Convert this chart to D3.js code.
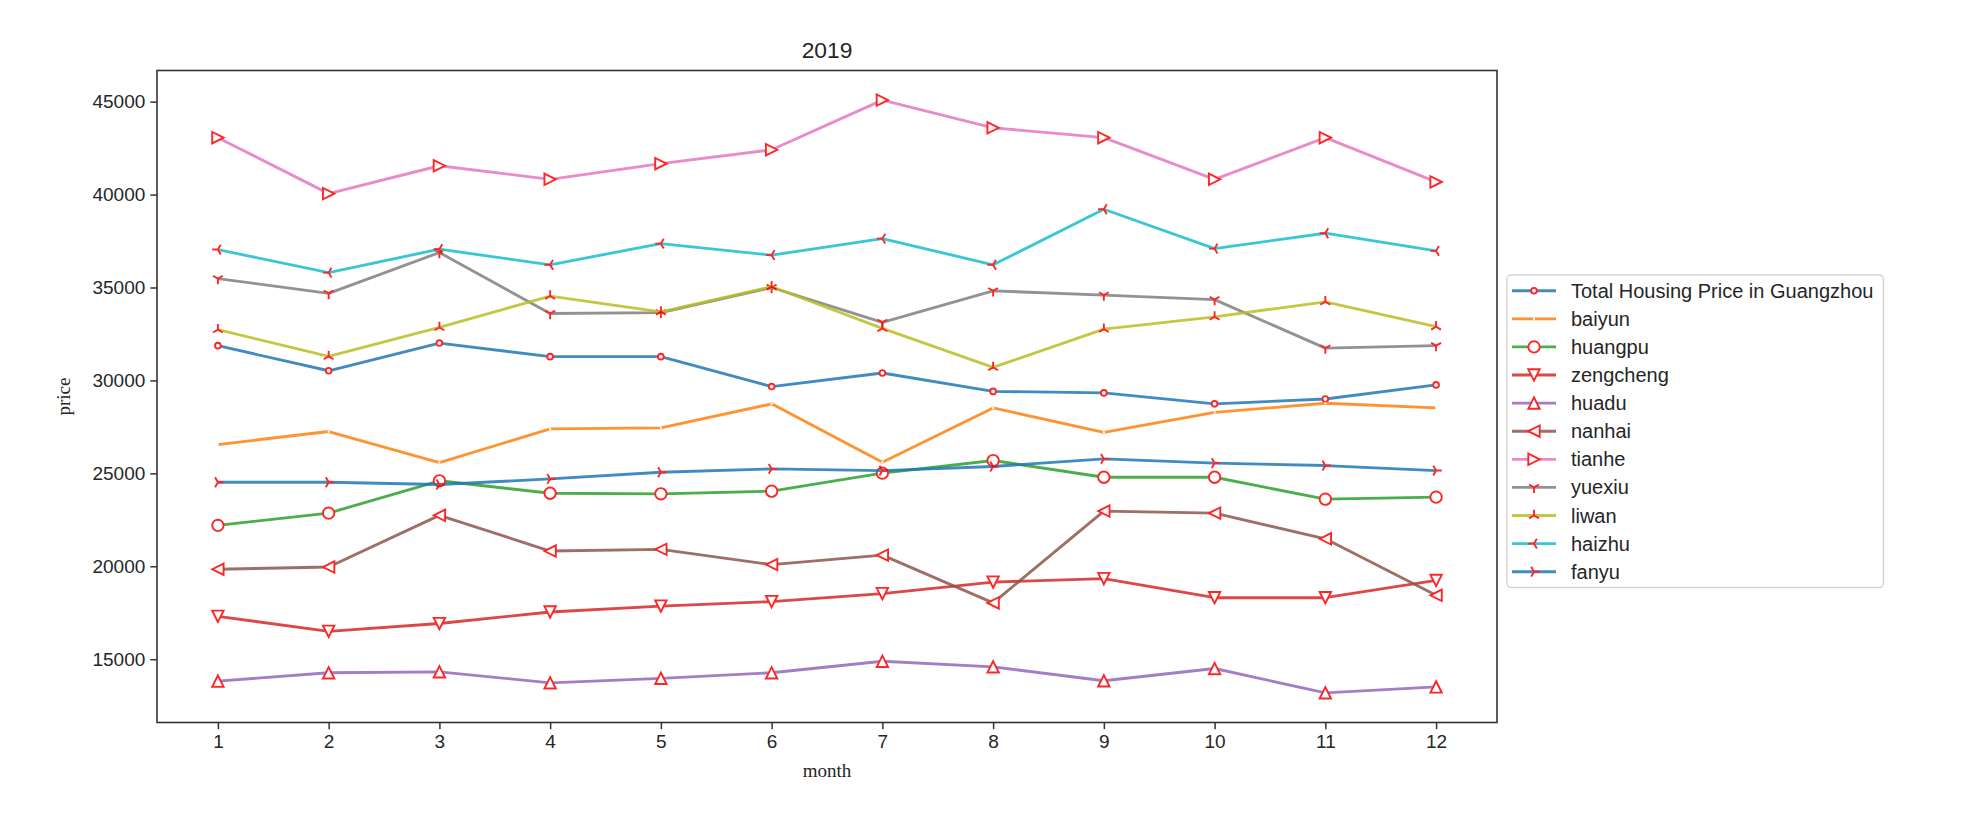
<!DOCTYPE html>
<html>
<head>
<meta charset="utf-8">
<script src="https://cdn.jsdelivr.net/npm/d3@7"></script>
<style>
	body { margin: 0; background: #fff; }
	.tick text { font-family: "Liberation Sans", Arial, sans-serif; font-size: 19px; fill: #262626; }
	.axis-label { font-family: "Liberation Serif", "Times New Roman", serif; font-size: 19px; fill: #262626; }
	.title { font-family: "Liberation Sans", Arial, sans-serif; font-size: 22.8px; fill: #262626; }
	.legend text { font-family: "Liberation Sans", Arial, sans-serif; font-size: 20px; fill: #262626; }
</style>
</head>
<body>
<svg id="chart" width="1972" height="818"></svg>
<script>
// monthly average price per district, 2019
var months = [1, 2, 3, 4, 5, 6, 7, 8, 9, 10, 11, 12];
var yTicks = [15000, 20000, 25000, 30000, 35000, 40000, 45000];

var total     = [31870, 30520, 32010, 31280, 31280, 29670, 30400, 29410, 29330, 28740, 29000, 29760];
var baiyun    = [26550, 27250, 25580, 27390, 27450, 28740, 25600, 28520, 27210, 28280, 28770, 28520];
var huangpu   = [22200, 22860, 24600, 23930, 23900, 24040, 25010, 25690, 24790, 24790, 23610, 23720];
var zengcheng = [17310, 16500, 16920, 17540, 17860, 18100, 18530, 19150, 19340, 18310, 18310, 19240];
var huadu     = [13820, 14270, 14320, 13730, 13970, 14270, 14890, 14590, 13840, 14500, 13190, 13510];
var nanhai    = [19840, 19960, 22740, 20820, 20910, 20090, 20600, 18030, 22970, 22860, 21480, 18440];
var tianhe    = [43060, 40050, 41550, 40820, 41660, 42410, 45080, 43590, 43060, 40820, 43060, 40680];
var yuexiu    = [35480, 34680, 36880, 33600, 33650, 35000, 33120, 34820, 34590, 34350, 31740, 31870];
var liwan     = [32730, 31290, 32850, 34540, 33690, 35040, 32800, 30700, 32760, 33420, 34230, 32890];
var haizhu    = [37040, 35800, 37060, 36220, 37360, 36740, 37630, 36220, 39210, 37090, 37920, 36970];
var fanyu     = [24520, 24520, 24400, 24700, 25060, 25240, 25150, 25370, 25780, 25550, 25420, 25150];

var seriesNames = ["Total Housing Price in Guangzhou", "baiyun", "huangpu", "zengcheng", "huadu",
	"nanhai", "tianhe", "yuexiu", "liwan", "haizhu", "fanyu"];
var seriesValues = [total, baiyun, huangpu, zengcheng, huadu, nanhai, tianhe, yuexiu, liwan, haizhu, fanyu];
var seriesMarkers = [".", ",", "o", "v", "^", "<", ">", "1", "2", "3", "4"];
var colors = ["#1f77b4", "#ff7f0e", "#2ca02c", "#d62728", "#9467bd", "#8c564b",
	"#e377c2", "#7f7f7f", "#bcbd22", "#17becf", "#1f77b4"];

var margin = {top: 70.5, right: 475, bottom: 95.5, left: 157};
var width = 1972, height = 818;

var svg = d3.select("#chart");

var xScale = d3.scaleLinear()
	.domain([0.45, 12.55])
	.range([margin.left, width - margin.right]);

//matplotlib style 5% padding on the y data range
var allValues = d3.merge(seriesValues);
var yMin = d3.min(allValues), yMax = d3.max(allValues);
var pad = (yMax - yMin) * 0.05;
var yScale = d3.scaleLinear()
	.domain([yMin - pad, yMax + pad])
	.range([height - margin.bottom, margin.top]);

var r = 5.7; // half marker size

function markerPath(m){
	var k = 0.866 * r, h = 0.5 * r;
	switch (m){
		case "^": return "M0," + (-r) + "L" + (-r) + "," + r + "L" + r + "," + r + "Z";
		case "v": return "M0," + r + "L" + (-r) + "," + (-r) + "L" + r + "," + (-r) + "Z";
		case "<": return "M" + (-r) + ",0L" + r + "," + (-r) + "L" + r + "," + r + "Z";
		case ">": return "M" + r + ",0L" + (-r) + "," + (-r) + "L" + (-r) + "," + r + "Z";
		case "1": return "M0,0L0," + r + "M0,0L" + k + "," + (-h) + "M0,0L" + (-k) + "," + (-h);
		case "2": return "M0,0L0," + (-r) + "M0,0L" + k + "," + h + "M0,0L" + (-k) + "," + h;
		case "3": return "M0,0L" + (-r) + ",0M0,0L" + h + "," + (-k) + "M0,0L" + h + "," + k;
		case "4": return "M0,0L" + r + ",0M0,0L" + (-h) + "," + (-k) + "M0,0L" + (-h) + "," + k;
	}
	return null;
}

function drawMarker(g, m, x, y){
	if (m === "o" || m === ".") {
		g.append("circle")
			.attr("cx", x).attr("cy", y)
			.attr("r", m === "o" ? r : r * 0.5)
			.attr("fill", "#fff").attr("stroke", "red").attr("stroke-width", 1.9);
	} else if (m === ",") {
		g.append("rect")
			.attr("x", x - 1).attr("y", y - 1)
			.attr("width", 2).attr("height", 2)
			.attr("fill", "#fff");
	} else {
		var filled = "^v<>".indexOf(m) >= 0;
		g.append("path")
			.attr("transform", "translate(" + x + "," + y + ")")
			.attr("d", markerPath(m))
			.attr("fill", filled ? "#fff" : "none")
			.attr("stroke", "red").attr("stroke-width", 1.9)
			.attr("stroke-linejoin", "miter");
	}
}

//Axes
var xAxis = d3.axisBottom(xScale).tickValues(months).tickSize(6.7).tickPadding(5);
var yAxis = d3.axisLeft(yScale).tickValues(yTicks).tickSize(6.7).tickPadding(5).tickFormat(d3.format("d"));

var gx = svg.append("g")
	.attr("transform", "translate(0," + (height - margin.bottom) + ")")
	.call(xAxis);
var gy = svg.append("g")
	.attr("transform", "translate(" + margin.left + ",0)")
	.call(yAxis);

[gx, gy].forEach(function(g){
	g.select(".domain").remove();
	g.selectAll(".tick line").attr("stroke", "#333").attr("stroke-width", 1.5);
});

//Lines and markers
var line = d3.line()
	.x(function(d, i){ return xScale(months[i]); })
	.y(function(d){ return yScale(d); });

var plot = svg.append("g");
seriesValues.forEach(function(vals, s){
	var g = plot.append("g").attr("opacity", 0.85);
	g.append("path")
		.datum(vals)
		.attr("d", line)
		.attr("fill", "none")
		.attr("stroke", colors[s])
		.attr("stroke-width", 2.85)
		.attr("stroke-linejoin", "round");
	vals.forEach(function(v, i){
		drawMarker(g, seriesMarkers[s], xScale(months[i]), yScale(v));
	});
});

//Frame
svg.append("rect")
	.attr("x", margin.left)
	.attr("y", margin.top)
	.attr("width", width - margin.right - margin.left)
	.attr("height", height - margin.bottom - margin.top)
	.attr("fill", "none")
	.attr("stroke", "#333")
	.attr("stroke-width", 1.6);

//Titles
svg.append("text")
	.attr("class", "title")
	.attr("text-anchor", "middle")
	.attr("x", (margin.left + width - margin.right) / 2)
	.attr("y", 57.5)
	.text("2019");

svg.append("text")
	.attr("class", "axis-label")
	.attr("text-anchor", "middle")
	.attr("x", (margin.left + width - margin.right) / 2)
	.attr("y", 777)
	.text("month");

svg.append("text")
	.attr("class", "axis-label")
	.attr("text-anchor", "middle")
	.attr("transform", "translate(70," + ((margin.top + height - margin.bottom) / 2) + ")rotate(-90)")
	.text("price");

//Legend
var legend = svg.append("g").attr("class", "legend");
var lx = 1507, ly = 275, rowH = 28.1;
var frame = legend.append("rect")
	.attr("x", lx).attr("y", ly)
	.attr("rx", 4).attr("ry", 4)
	.attr("fill", "#fff")
	.attr("stroke", "#d6d6d6")
	.attr("stroke-width", 1.5);

var maxText = 0;
seriesNames.forEach(function(name, s){
	var cy = ly + 15.7 + s * rowH;
	var g = legend.append("g").attr("opacity", 0.85);
	g.append("line")
		.attr("x1", lx + 5).attr("x2", lx + 49)
		.attr("y1", cy).attr("y2", cy)
		.attr("stroke", colors[s]).attr("stroke-width", 2.85);
	drawMarker(g, seriesMarkers[s], lx + 27, cy);
	var t = legend.append("text")
		.attr("x", lx + 64)
		.attr("y", cy)
		.attr("dy", "0.35em")
		.text(name);
	maxText = Math.max(maxText, t.node().getComputedTextLength());
});

frame.attr("width", 64 + maxText + 10)
	.attr("height", seriesNames.length * rowH + 3.5);
</script>
</body>
</html>
